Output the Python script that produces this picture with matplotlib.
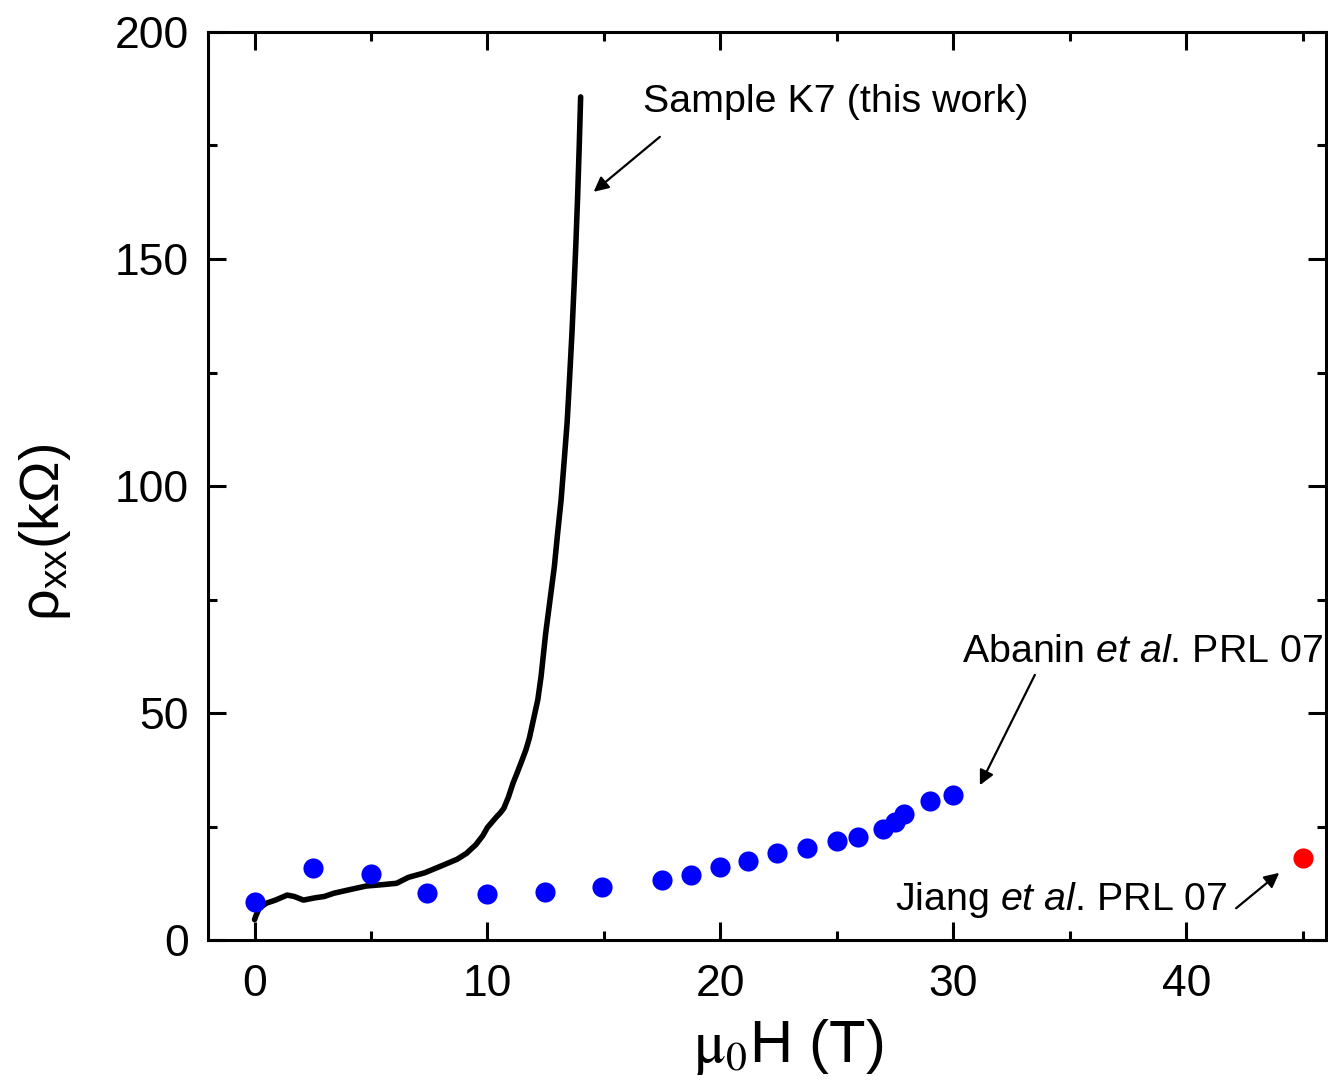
import matplotlib
matplotlib.use("Agg")
import matplotlib.pyplot as plt
import numpy as np

plt.rcParams['font.family'] = ['Liberation Sans', 'DejaVu Sans']
plt.rcParams['mathtext.fontset'] = 'custom'
plt.rcParams['mathtext.rm'] = 'Liberation Sans'
plt.rcParams['mathtext.it'] = 'Liberation Sans:italic'

# sample K7 (this work), black trace
k7_field = [0.0, 0.07, 0.2, 0.5, 0.9, 1.4, 1.7, 2.1, 2.6, 3.0, 3.4, 4.0, 4.8, 5.5,
            6.1, 6.6, 7.3, 8.1, 8.7, 9.1, 9.5, 9.8, 10.0, 10.2, 10.4, 10.55, 10.7,
            10.9, 11.1, 11.25, 11.4, 11.55, 11.65, 11.8, 11.95, 12.16, 12.3, 12.5,
            12.7, 12.87, 13.0, 13.16, 13.3, 13.42, 13.52, 13.63, 13.73, 13.8, 13.87,
            13.94, 14.0]
k7_rho = [4.5, 5.5, 7.0, 8.1, 8.8, 9.9, 9.6, 8.8, 9.3, 9.6, 10.3, 11.0, 11.9, 12.2,
          12.5, 13.8, 14.8, 16.5, 17.8, 19.1, 21.0, 23.0, 24.8, 26.0, 27.2, 28.0, 29.0,
          31.5, 34.6, 36.5, 38.5, 40.5, 41.9, 44.5, 48.0, 52.9, 58.0, 67.6,
          75.5, 82.2, 89.0, 96.9, 106.0, 114.0, 123.3, 134.0, 145.4, 154.0, 163.7,
          175.0, 185.7]

# Abanin et al. PRL 07
abanin_field = [0, 2.5, 5, 7.4, 10, 12.45, 14.9, 17.5, 18.75, 20, 21.2, 22.45,
                23.7, 25.0, 25.9, 27.0, 27.5, 27.9, 29.0, 30.0]
abanin_rho = [8.4, 15.9, 14.5, 10.4, 10.1, 10.6, 11.7, 13.2, 14.3, 16.1, 17.4, 19.2,
              20.3, 21.8, 22.7, 24.4, 26.0, 27.8, 30.6, 31.9]

# Jiang et al. PRL 07
jiang_field = [45.0]
jiang_rho = [18.1]

fig = plt.figure(figsize=(13.28, 10.88), dpi=100)
ax = fig.add_axes([0.1566, 0.136, 0.8419, 0.8346])

ax.plot(k7_field, k7_rho, color='black', lw=4.0, solid_capstyle='round',
        solid_joinstyle='round', zorder=3)
ax.plot(abanin_field, abanin_rho, 'o', color='#0000ff', ms=14.5, mec='none', zorder=4)
ax.plot(jiang_field, jiang_rho, 'o', color='#ff0000', ms=14.5, mec='none', zorder=4)

ax.set_xlim(-2, 46)
ax.set_ylim(0, 200)
ax.set_xticks([0, 10, 20, 30, 40])
ax.set_xticks([5, 15, 25, 35, 45], minor=True)
ax.set_yticks([0, 50, 100, 150, 200])
ax.set_yticks([25, 75, 125, 175], minor=True)

for s in ax.spines.values():
    s.set_linewidth(2.2)
ax.tick_params(which='both', direction='in', top=True, right=True, width=2.2)
ax.tick_params(which='major', length=13, labelsize=32)
ax.tick_params(axis='x', which='major', pad=17)
ax.tick_params(axis='y', which='major', pad=14)
ax.tick_params(which='minor', length=6.5)

ax.set_xlabel(r'$\mathrm{\mu}_0$H (T)', fontsize=43, math_fontfamily='stix')
ax.xaxis.set_label_coords(0.519, -0.085)
ax.set_ylabel(r'ρ$_{\mathrm{xx}}$(kΩ)', fontsize=40)
ax.yaxis.set_label_coords(-0.121, 0.449)

arrow = dict(arrowstyle='-|>', color='black', lw=1.6, mutation_scale=22, shrinkA=0, shrinkB=0)
ax.text(16.67, 184.6, 'Sample K7 (this work)', fontsize=28.4, va='center', ha='left')
ax.annotate('', xy=(14.56, 164.8), xytext=(17.4, 176.9), arrowprops=arrow)

ax.text(30.37, 63.4, r'Abanin $\mathit{et}$ $\mathit{al}$. PRL 07', fontsize=28.4,
        va='center', ha='left')
ax.annotate('', xy=(31.14, 34.1), xytext=(33.5, 58.4), arrowprops=arrow)

ax.text(41.8, 8.8, r'Jiang $\mathit{et}$ $\mathit{al}$. PRL 07', fontsize=28.4,
        va='center', ha='right')
ax.annotate('', xy=(43.99, 14.8), xytext=(42.14, 7.0), arrowprops=arrow)

fig.savefig('out.png', dpi=100)
